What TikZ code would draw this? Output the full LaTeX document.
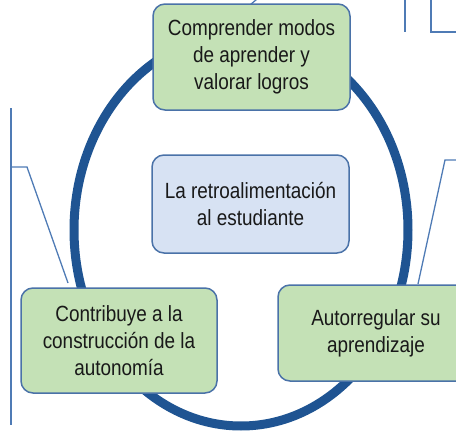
\documentclass[tikz,border=0pt]{standalone}
\usepackage{fontspec}
\setmainfont{Liberation Sans}[FakeStretch=0.86]
\definecolor{ringblue}{HTML}{1F5492}
\definecolor{edgeblue}{HTML}{4A72A8}
\definecolor{lineblue}{HTML}{4F7BB5}
\definecolor{boxgreen}{HTML}{C4E1B6}
\definecolor{boxblue}{HTML}{D7E2F3}
\tikzset{
  gbox/.style={draw=edgeblue, line width=1.5pt, fill=boxgreen, rounded corners=12pt,
    align=center, inner sep=0pt, font=\fontsize{22}{26.7}\selectfont, text=black!90},
  bbox/.style={gbox, fill=boxblue},
  bgline/.style={draw=lineblue, line width=1.3pt}
}
\begin{document}
\begin{tikzpicture}[x=1pt,y=-1pt]
\useasboundingbox (0,0) rectangle (456,431);
% background lines of neighbouring diagram parts
\coordinate (l1) at (11,108);
\coordinate (l2) at (11,425);
\coordinate (l3) at (27,167);
\coordinate (l4) at (68,283);
\draw[bgline] (l1) -- (l2);
\draw[bgline] (11,167) -- (l3) -- (l4);
\coordinate (r1) at (460,160);
\coordinate (r2) at (445,160);
\coordinate (r3) at (418,284);
\draw[bgline] (r1) -- (r2) -- (r3);
\coordinate (t1) at (405,-2);
\coordinate (t2) at (405,32);
\draw[bgline] (t1) -- (t2);
\coordinate (t3) at (431,-2);
\coordinate (t4) at (431,32);
\coordinate (t5) at (460,32);
\draw[bgline] (t3) -- (t4) -- (t5);
\coordinate (s1) at (250,5);
\coordinate (s2) at (257,-1);
\draw[bgline] (s1) -- (s2);
% ring
\draw[ringblue, line width=9pt] (241,230) ellipse [x radius=167, y radius=196];
% boxes
\node[gbox, minimum width=197pt, minimum height=106pt] (top) at (251.5,57)
  {Comprender modos\\de aprender y\\valorar logros};
\node[bbox, minimum width=197pt, minimum height=98pt] (mid) at (250.5,204)
  {La retroalimentación\\al estudiante};
\node[gbox, minimum width=196pt, minimum height=105pt] (left) at (119,340.5)
  {Contribuye a la\\construcción de la\\autonomía};
\node[gbox, minimum width=196pt, minimum height=96pt] (right) at (376,333)
  {Autorregular su\\aprendizaje};
\end{tikzpicture}
\end{document}
